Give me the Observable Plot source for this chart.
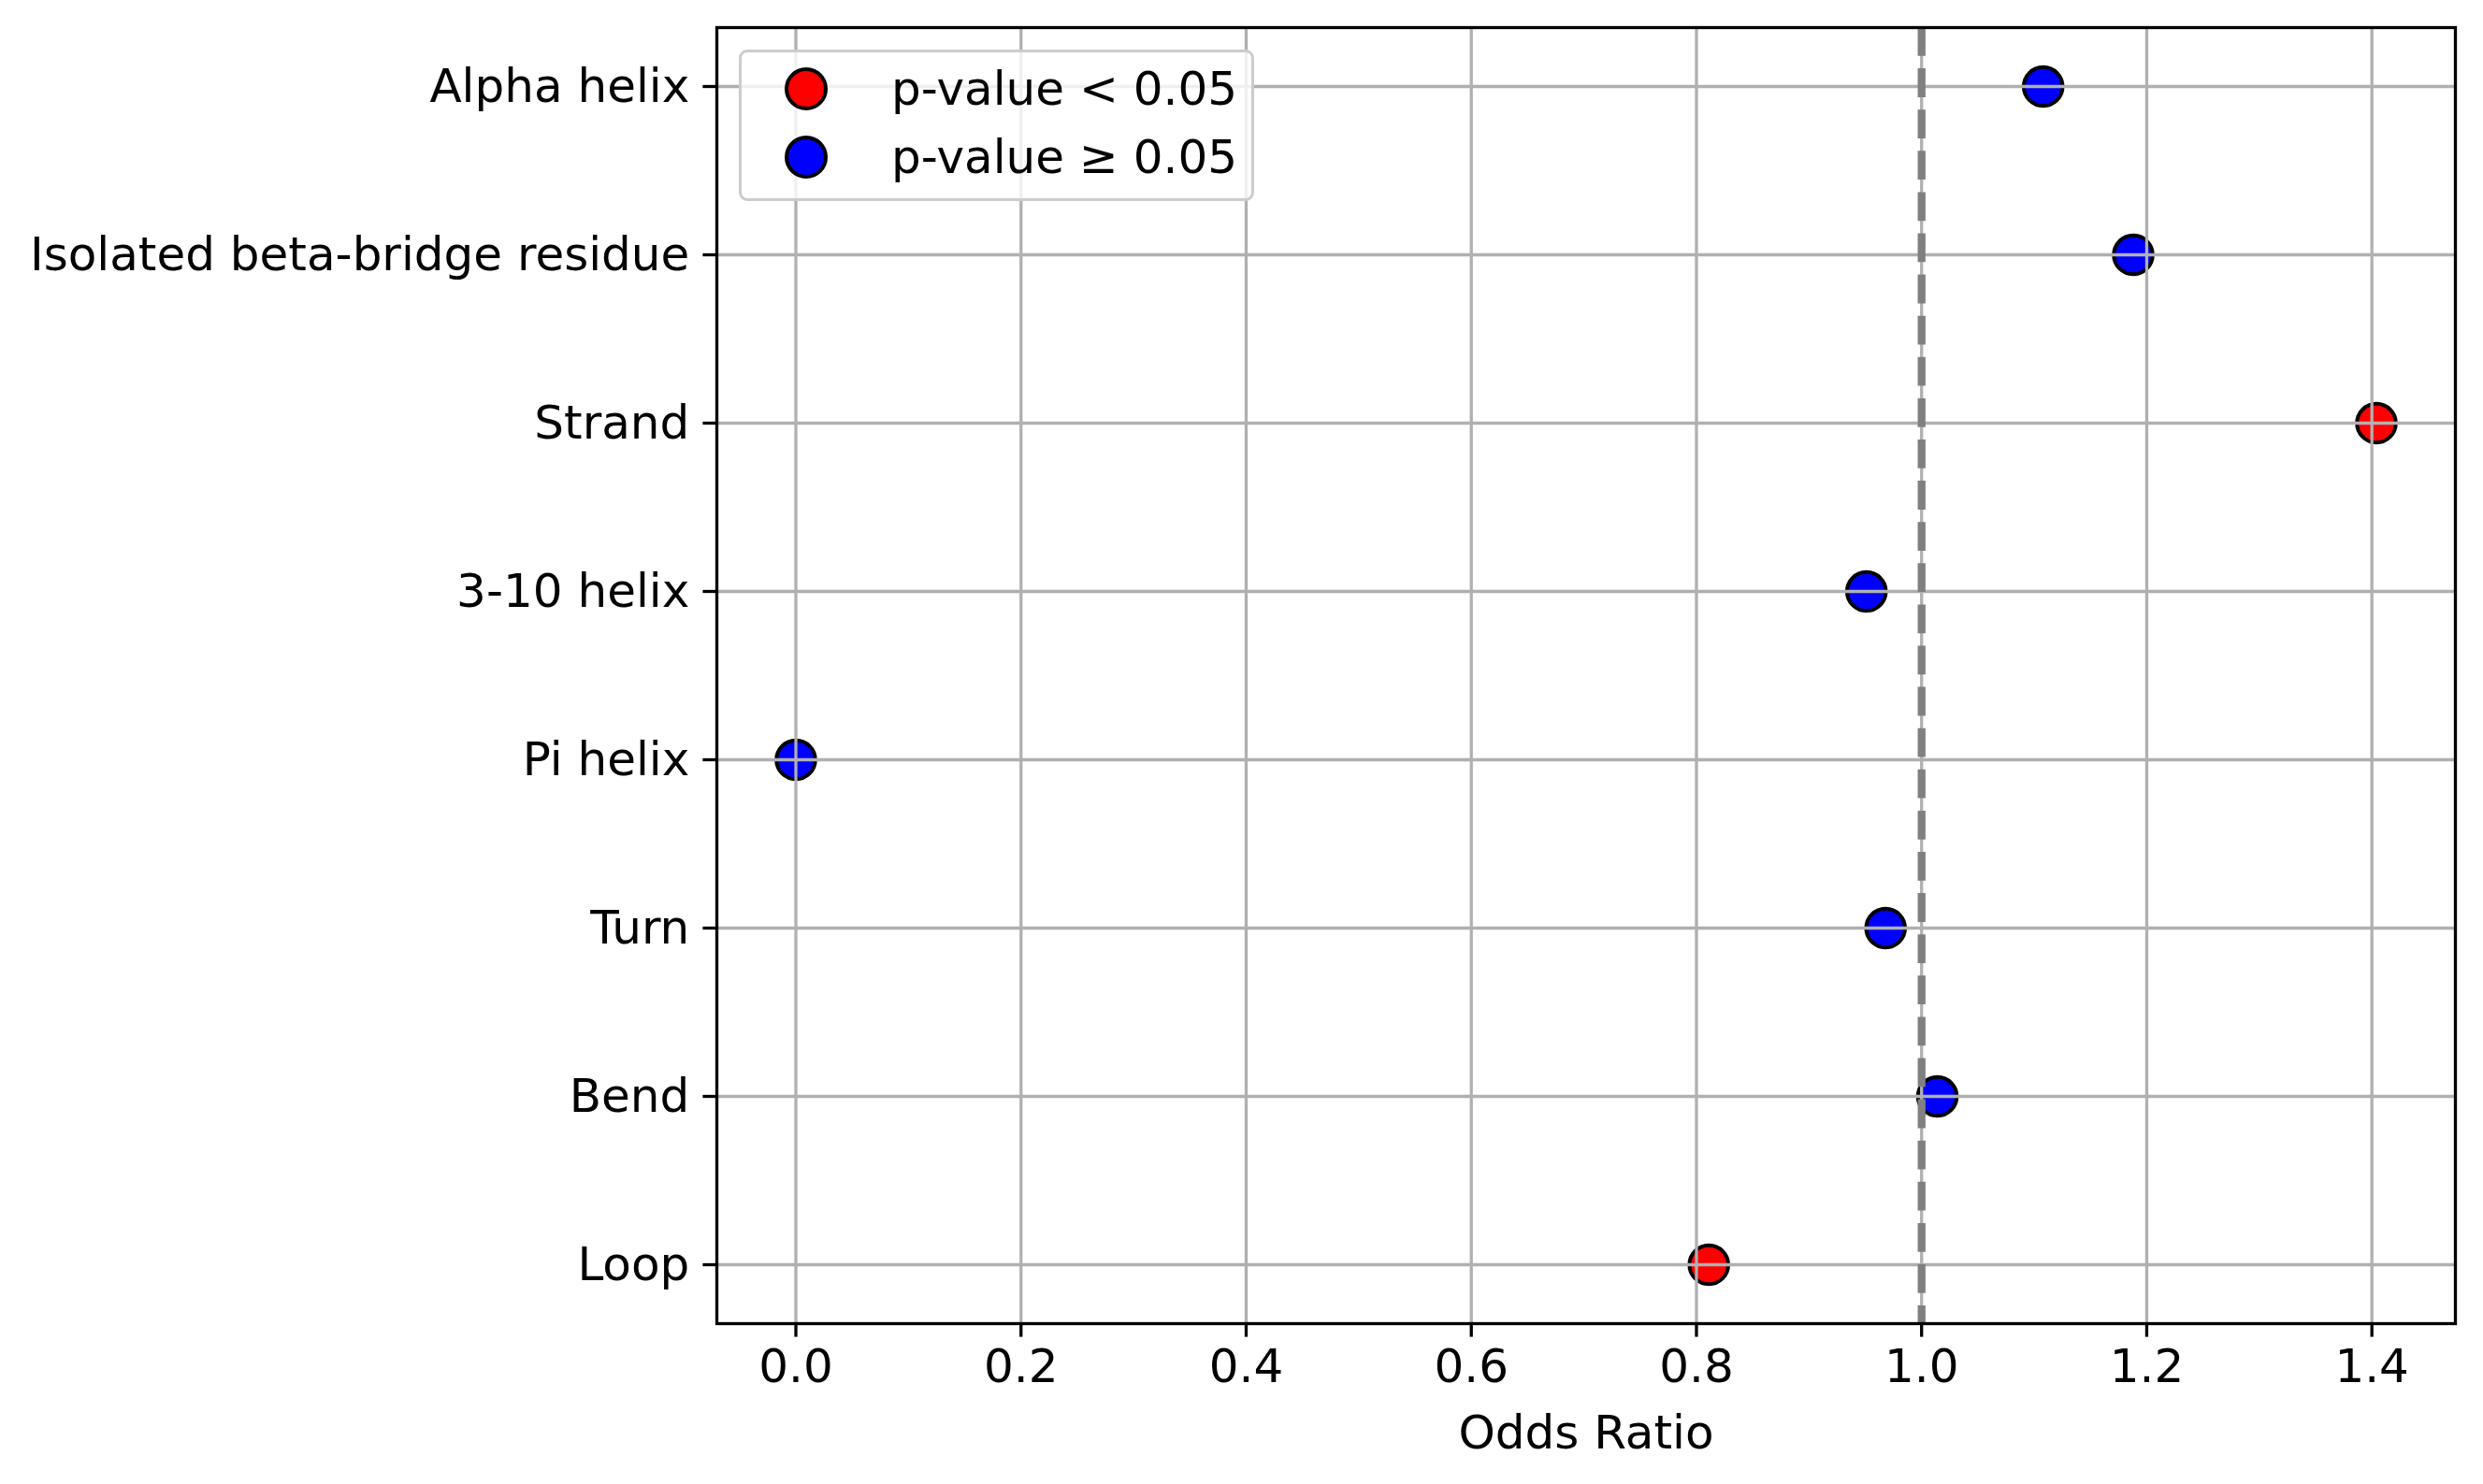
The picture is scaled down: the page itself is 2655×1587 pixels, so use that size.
<!DOCTYPE html>
<html>
<head>
<meta charset="utf-8">
<script src="https://cdn.jsdelivr.net/npm/d3@7"></script>
<script src="https://cdn.jsdelivr.net/npm/@observablehq/plot@0.6"></script>
<style>
  html, body { margin: 0; padding: 0; background: #fff; }
  #wrap { position: relative; width: 2655px; height: 1587px; font-family: "DejaVu Sans", sans-serif; }
  #legend {
    position: absolute; left: 790px; top: 53px; width: 545px; height: 156px;
    box-sizing: content-box;
    border: 3.3px solid #cccccc; border-radius: 9px;
    background: rgba(255,255,255,0.8);
  }
  .item { position: absolute; left: 0; height: 50px; width: 100%; }
  .sw { position: absolute; left: 46px; top: 50%; margin-top: -23px; width: 38px; height: 38px; border-radius: 50%; border: 4px solid #000; box-sizing: content-box; }
  .lab { position: absolute; left: 160px; top: 0; font-size: 50px; white-space: nowrap; color: #000; line-height: 50px; }
</style>
</head>
<body>
<div id="wrap"></div>
<script>
// ---- data ----
const categories = ["Alpha helix", "Isolated beta-bridge residue", "Strand", "3-10 helix", "Pi helix", "Turn", "Bend", "Loop"];
const oddsRatios = [1.108, 1.188, 1.404, 0.951, 0.0, 0.968, 1.014, 0.811];
const significant = [false, false, true, false, false, false, false, true];
const xTicks = [0.0, 0.2, 0.4, 0.6, 0.8, 1.0, 1.2, 1.4];
const legendLabels = ["p-value < 0.05", "p-value \u2265 0.05"];
const legendColors = ["red", "blue"];
const referenceValue = [1.0];

const data = categories.map((c, i) => ({
  category: c,
  or: oddsRatios[i],
  group: significant[i] ? legendLabels[0] : legendLabels[1]
}));

const xMin = d3.min(oddsRatios), xMax = d3.max(oddsRatios);
const pad = (xMax - xMin) * 0.05;

const chart = Plot.plot({
  width: 2655,
  height: 1587,
  marginLeft: 766,
  marginRight: 30,
  marginTop: 29,
  marginBottom: 172,
  style: { fontFamily: "DejaVu Sans, sans-serif", fontSize: "50px", color: "#000", background: "#fff" },
  x: { domain: [xMin - pad, xMax + pad], ticks: xTicks, tickFormat: d3.format(".1f") },
  y: { type: "point", domain: categories, padding: 0.35 },
  color: { domain: legendLabels, range: legendColors },
  marks: [
    Plot.dot(data, { x: "or", y: "category", fill: "group", r: 20.8, stroke: "#000", strokeWidth: 4 }),
    Plot.gridX(xTicks, { stroke: "#b0b0b0", strokeOpacity: 1, strokeWidth: 3.3 }),
    Plot.gridY(categories, { stroke: "#b0b0b0", strokeOpacity: 1, strokeWidth: 3.3 }),
    Plot.ruleX(referenceValue, { stroke: "#808080", strokeWidth: 8.3, strokeDasharray: "30.8 13.3" }),
    Plot.axisX(xTicks, { tickSize: 14.6, tickPadding: 12, strokeWidth: 3.3, tickFormat: d3.format(".1f"),
      label: "Odds Ratio", labelAnchor: "center", labelArrow: "none", labelOffset: 133, fontSize: 50 }),
    Plot.axisY(categories, { tickSize: 14.6, tickPadding: 14.6, strokeWidth: 3.3, label: null, fontSize: 50 }),
    Plot.frame({ stroke: "#000", strokeWidth: 3.3 })
  ]
});

const wrap = document.getElementById("wrap");
wrap.appendChild(chart);

// legend overlay
const legend = document.createElement("div");
legend.id = "legend";
legendLabels.forEach((lab, i) => {
  const item = document.createElement("div");
  item.className = "item";
  item.style.top = (14 + i * 73) + "px";
  const sw = document.createElement("div");
  sw.className = "sw";
  sw.style.background = legendColors[i];
  const t = document.createElement("div");
  t.className = "lab";
  t.textContent = lab;
  item.appendChild(sw);
  item.appendChild(t);
  legend.appendChild(item);
});
wrap.appendChild(legend);
</script>
</body>
</html>
